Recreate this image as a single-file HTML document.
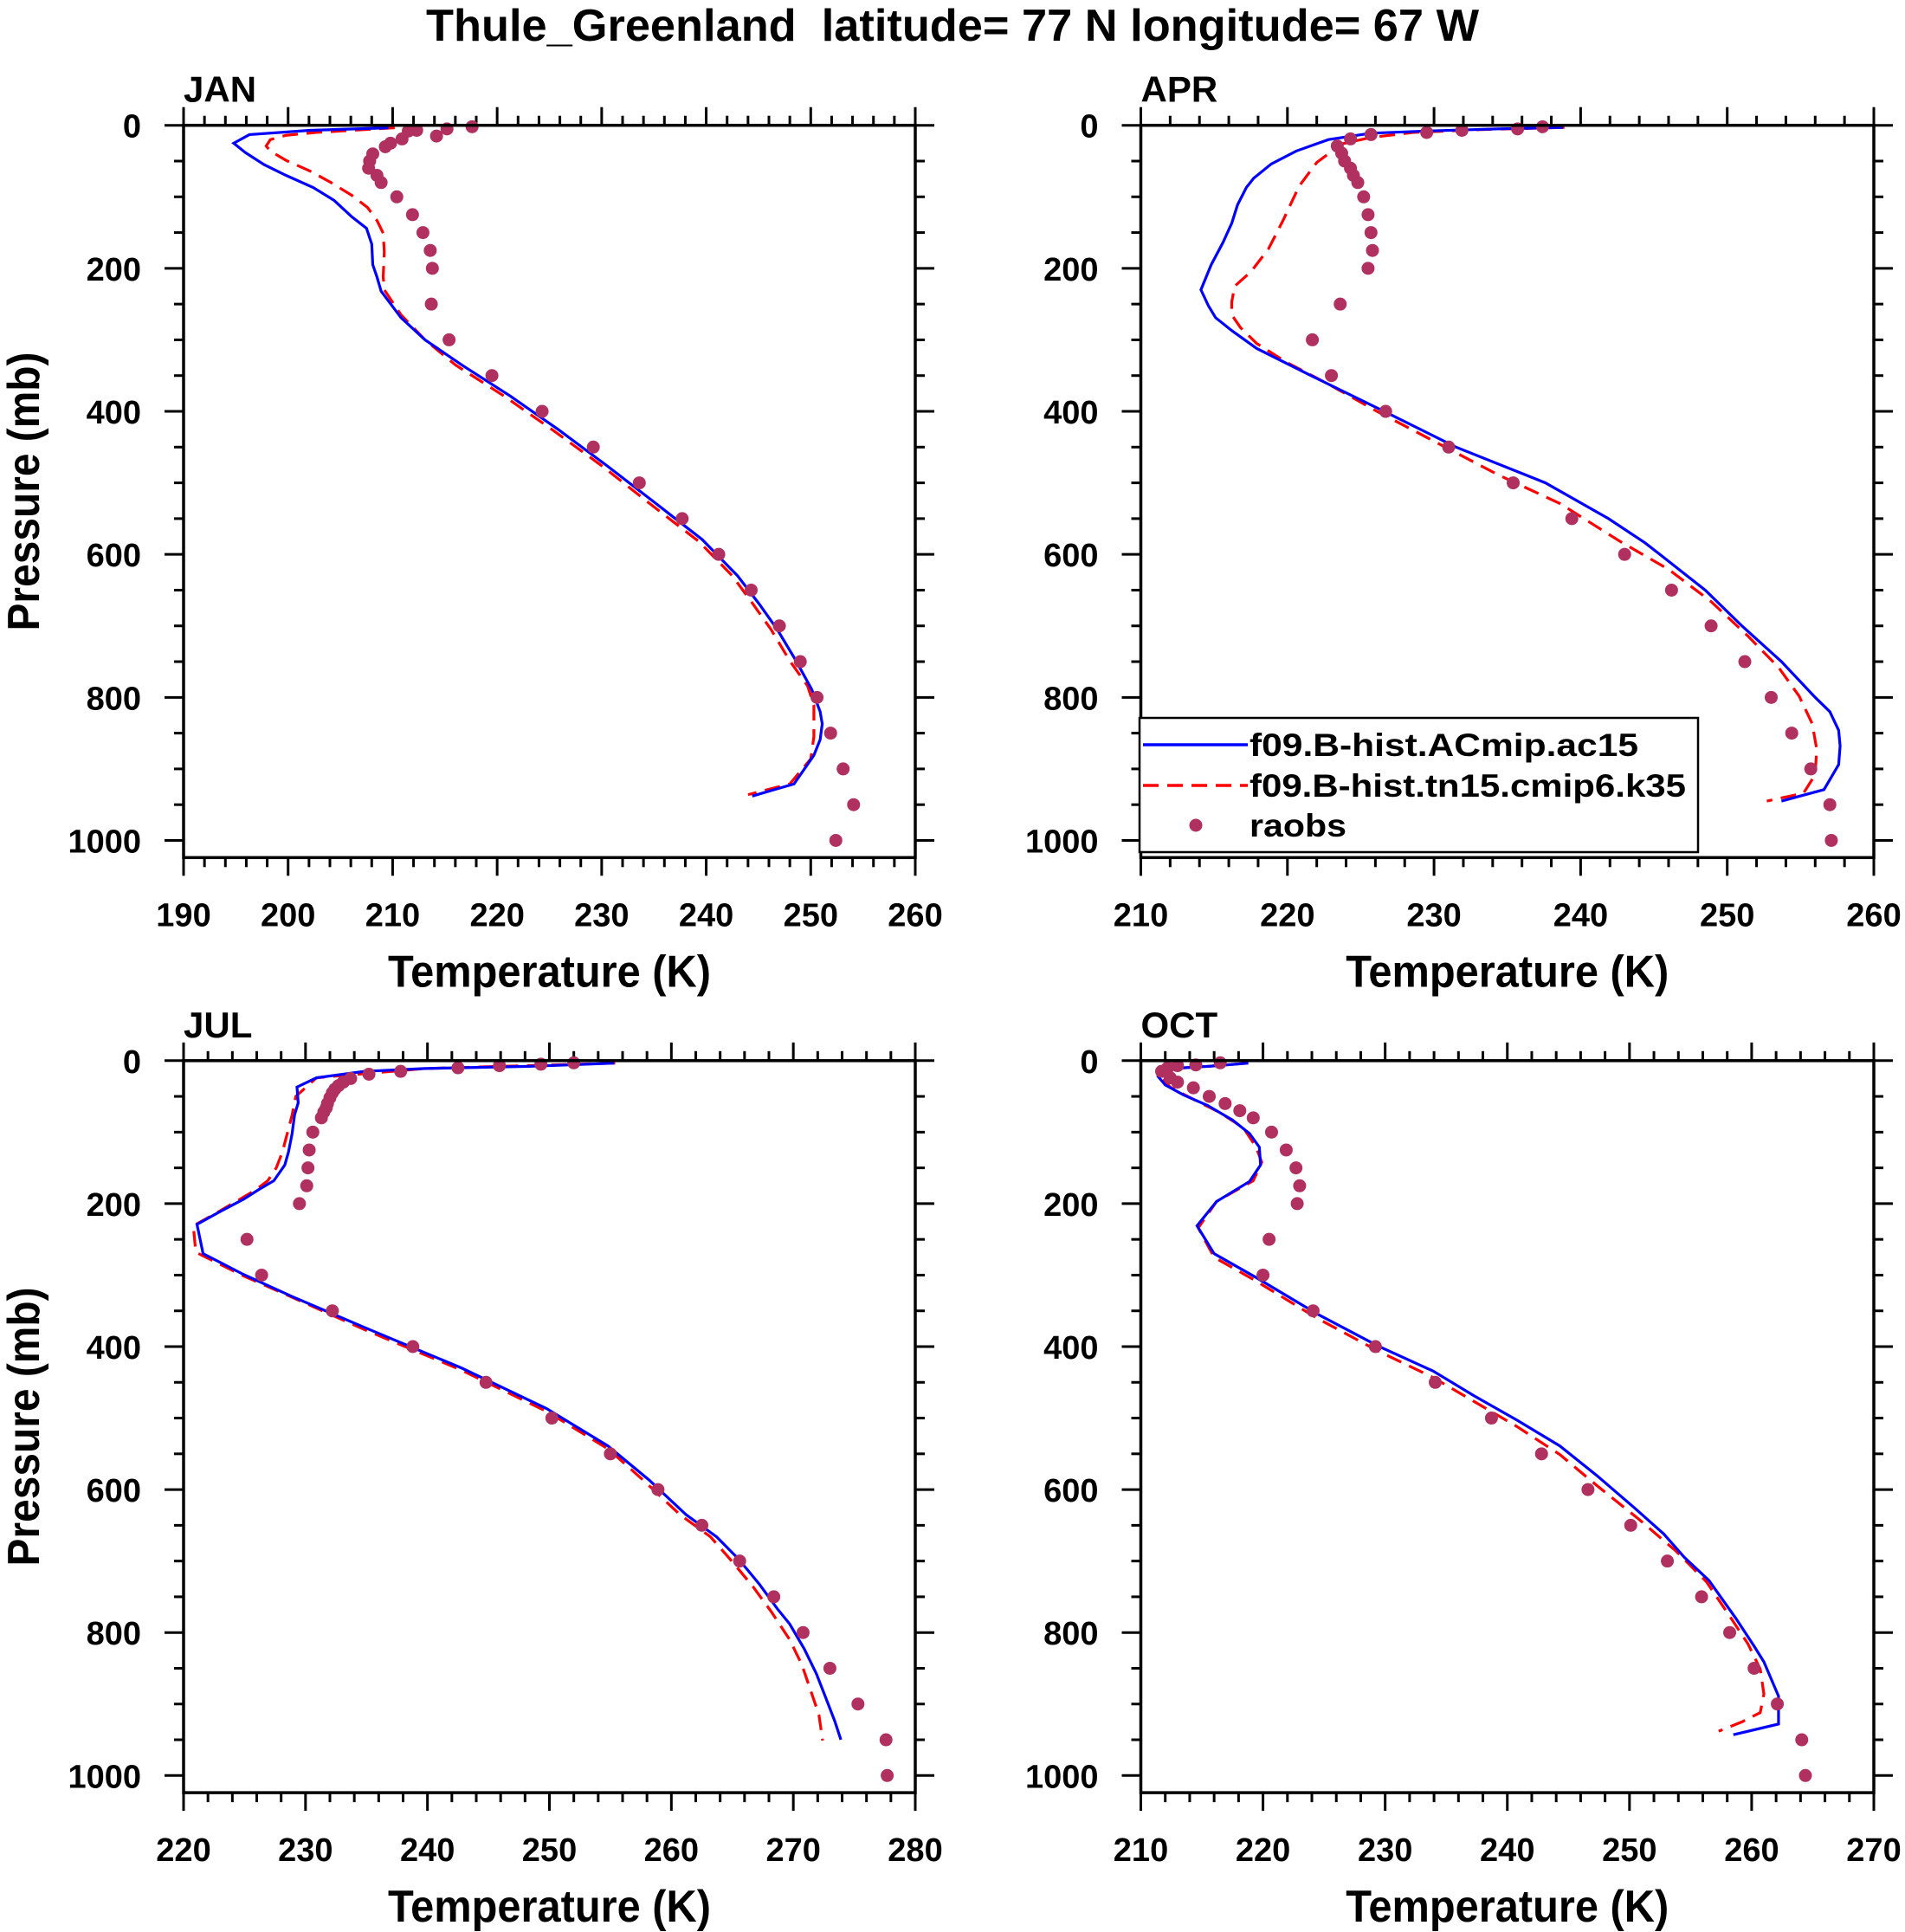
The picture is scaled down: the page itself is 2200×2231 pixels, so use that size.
<!DOCTYPE html>
<html><head><meta charset="utf-8"><style>
html,body{margin:0;padding:0;background:#fff;}
svg{display:block;font-family:"Liberation Sans",sans-serif;font-weight:bold;}
</style></head><body>
<svg id="fig" width="2200" height="2231" viewBox="0 0 2200 2231">
<text x="1100" y="47" text-anchor="middle" font-size="52" textLength="1216" lengthAdjust="spacingAndGlyphs" style="white-space:pre">Thule_Greenland  latitude= 77 N longitude= 67 W</text>
</svg>
<script>
// ---- JAN ----
const janObsT=[217.6,215.2,214.2,212.3,211.5,210.9,209.8,209.3,208.1,207.8,207.7,208.5,208.9,210.4,211.9,212.9,213.6,213.8,213.7,215.4,219.5,224.3,229.2,233.6,237.7,241.2,244.3,247.0,249.0,250.6,251.9,253.1,254.1,252.4];
const janObsP=[2,5,15,7,8,19,25,30,40,50,60,70,80,100,125,150,175,200,250,300,350,400,450,500,550,600,650,700,750,800,850,900,950,1000];
const janAcT=[209.6,202.1,196.3,194.8,195.9,197.7,199.8,202.4,204.4,206.1,207.5,208.0,208.1,208.5,208.9,210.8,213.1,216.6,221.3,225.9,230.5,235.2,239.6,243.0,245.1,246.8,248.6,250.1,250.9,251.1,250.9,250.3,248.4,244.4];
const janAcP=[3.5,7,13,25,38,55,70,87,105,128,144,166,195,212,232,269,300,335,379,426,476,529,579,630,670,705,749,789,820,837,859,881,921,938];
const janTnT=[210.2,202.7,199.8,198.3,197.9,198.3,199.8,202.1,204.1,206.1,207.6,208.5,209.1,209.2,209.1,209.2,210.8,213.1,216.0,220.7,225.3,230.0,234.6,239.3,242.5,244.5,246.2,248.0,249.7,250.3,250.3,250.0,248.0,244.0];
const janTnP=[3.5,10,14,20,29,36,49,64,80,98,115,133,151,177,212,230,265,300,335,379,426,476,529,582,630,670,705,749,784,811,855,886,921,936];
const janXTicks=[190,200,210,220,230,240,250,260];
// ---- APR ----
const aprObsT=[237.4,235.7,231.9,229.5,225.7,224.3,223.4,223.7,223.9,224.3,224.5,224.8,225.2,225.5,225.7,225.8,225.5,223.6,221.7,223.0,226.7,231.0,235.4,239.4,243.0,246.2,248.9,251.2,253.0,254.4,255.7,257.0,257.1];
const aprObsP=[2,5,7,10,13,19,29,39,50,60,70,80,100,125,150,175,200,250,300,350,400,450,500,550,600,650,700,750,800,850,900,950,1000];
const aprAcT=[238.8,234.4,229.5,225.7,222.8,220.6,218.9,217.7,217.2,216.6,216.2,215.6,214.8,214.1,214.6,215.1,216.2,217.9,221.6,226.6,231.5,237.6,241.9,244.4,245.4,248.5,251.0,253.7,256.0,257.0,257.6,257.7,257.6,256.6,253.7];
const aprAcP=[3,5,8,11,20,36,54,74,87,111,137,164,195,230,252,269,287,312,350,400,450,500,550,584,600,650,700,750,800,820,846,868,894,929,945];
const aprTnT=[238.9,233.2,228.6,225.7,223.7,222.0,220.8,219.7,218.7,217.5,216.4,216.2,216.2,216.8,217.9,219.9,222.8,226.2,230.3,234.4,238.6,242.7,246.0,248.9,251.4,253.5,254.9,255.8,256.1,256.0,255.2,252.7];
const aprTnP=[3,6,10,17,26,52,85,133,173,205,225,247,265,283,305,331,362,401,445,489,529,582,621,666,714,758,798,837,872,908,934,945];
const aprXTicks=[210,220,230,240,250,260];
// ---- JUL ----
const julObsT=[252.0,249.3,245.9,242.5,237.8,235.2,233.7,233.1,232.7,232.4,232.2,232.0,231.8,231.7,231.5,231.3,230.6,230.3,230.2,230.1,229.5,225.2,226.4,232.2,238.8,244.8,250.2,255.0,258.9,262.5,265.6,268.4,270.8,273.0,275.3,277.6,277.7];
const julObsP=[3,5,7,10,15,19,25,30,35,40,45,52,60,66,72,80,100,125,150,175,200,250,300,350,400,450,500,550,600,650,700,750,800,850,900,950,1000];
const julAcT=[255.3,248.3,239.8,234.8,230.9,229.3,229.4,229.1,228.9,228.6,228.3,227.4,226.1,224.9,222.9,221.1,221.6,224.9,228.9,234.8,242.8,249.8,254.8,258.2,261.2,263.7,265.5,267.2,268.7,269.7,270.9,271.9,272.7,273.4,273.9];
const julAcP=[3.5,8,11,15,24,37,59,76,102,128,146,168,181,194,212,229,270,299,330,373,430,487,539,587,635,666,697,732,767,788,823,858,893,924,950];
const julTnT=[255.4,239.8,230.9,229.2,228.9,228.5,228.1,227.6,226.9,225.9,224.6,222.6,220.8,221.0,224.9,228.9,234.8,242.8,249.8,254.8,257.7,260.7,263.2,265.0,266.7,268.2,269.7,270.7,271.4,272.1,272.4];
const julTnP=[3.5,11,24,50,76,102,128,150,168,181,194,214,231,268,301,331,376,433,491,543,587,635,666,701,736,771,810,845,880,915,951];
const julXTicks=[220,230,240,250,260,270,280];
// ---- OCT ----
const octObsT=[216.5,214.5,213.0,212.2,211.7,212.4,213.0,214.3,215.6,216.9,218.1,219.2,220.7,221.9,222.7,223.0,222.8,220.5,220.0,224.1,229.2,234.1,238.7,242.8,246.6,250.1,253.1,255.9,258.2,260.2,262.1,264.1,264.4];
const octObsP=[3,6,7,10,15,24,30,38,50,60,70,80,100,125,150,175,200,250,300,350,400,450,500,550,600,650,700,750,800,850,900,950,1000];
const octAcT=[218.8,215.5,211.5,211.4,212.0,213.5,215.5,217.5,218.9,219.7,219.8,218.9,216.2,214.6,216.0,219.4,224.4,229.4,233.9,237.3,240.8,244.3,247.3,250.3,252.8,254.5,256.5,258.7,260.2,261.0,262.2,262.2,258.5];
const octAcP=[3.5,8,12,22,34,48,63,83,102,121,146,169,197,231,270,303,354,399,434,469,503,539,580,624,662,695,727,780,819,841,889,928,943];
const octTnT=[218.7,215.5,211.7,211.6,212.4,214.4,216.4,218.4,219.4,219.9,219.2,216.2,214.7,216.0,219.4,224.4,229.4,233.9,237.3,240.8,244.3,247.3,250.8,253.8,256.3,258.2,259.7,260.7,261.0,260.7,259.2,257.3];
const octTnP=[3.5,8,12,22,37,55,72,94,120,142,168,197,234,275,308,360,406,443,477,512,551,594,642,686,729,777,816,851,886,912,925,938];
const octXTicks=[210,220,230,240,250,260,270];
const yTicks=[0,200,400,600,800,1000];
const panelNames=["JAN","APR","JUL","OCT"];

const NS="http://www.w3.org/2000/svg";
const svg=document.getElementById('fig');
function mk(tag,attrs,parent){const e=document.createElementNS(NS,tag);for(const k in attrs)e.setAttribute(k,attrs[k]);(parent||svg).appendChild(e);return e;}

function panel(name,L,T,R,B,xt,obsT,obsP,acT,acP,tnT,tnP,showYTitle){
  const g=mk('g',{});
  
  
  const xmin=xt[0],xmax=xt[xt.length-1],pmax=1024;
  const xs=t=>L+(t-xmin)/(xmax-xmin)*(R-L);
  const ys=p=>T+p/pmax*(B-T);
  for(let v=xmin;v<=xmax+1e-6;v+=2){
    const major=Math.abs((v-xmin)%10)<1e-6;const len=major?21:11;const x=xs(v);
    const t1=mk('line',{x1:x,x2:x,y1:B,y2:B+len,stroke:'#000','stroke-width':3},g);
    
    
    const t2=mk('line',{x1:x,x2:x,y1:T,y2:T-len,stroke:'#000','stroke-width':3},g);
    
    
  }
  for(let p=0;p<=1000;p+=50){
    const major=p%200===0;const len=major?22:11;const y=ys(p);
    const t1=mk('line',{x1:L,x2:L-len,y1:y,y2:y,stroke:'#000','stroke-width':3},g);
    
    
    const t2=mk('line',{x1:R,x2:R+len,y1:y,y2:y,stroke:'#000','stroke-width':3},g);
    
    
  }
  xt.forEach(v=>{const t=mk('text',{x:xs(v),y:B+79,'text-anchor':'middle','font-size':38},g);t.textContent=v;
    
    });
  yTicks.forEach(v=>{const t=mk('text',{x:L-49,y:ys(v)+14,'text-anchor':'end','font-size':38},g);t.textContent=v;
    
    });
  const xt2=mk('text',{x:(L+R)/2,y:B+149,'text-anchor':'middle','font-size':52,textLength:373,lengthAdjust:'spacingAndGlyphs'},g);
  xt2.textContent='Temperature (K)';
  
  
  if(showYTitle){
    const cy=(T+B)/2;
    const yt=mk('text',{x:0,y:0,'text-anchor':'middle','font-size':52,textLength:322,lengthAdjust:'spacingAndGlyphs',transform:`translate(45,${cy}) rotate(-90)`},g);
    yt.textContent='Pressure (mb)';
    
    
  }
  const pt=mk('text',{x:L,y:T-27,'font-size':42},g);pt.textContent=name;
  
  
  const clip=mk('clipPath',{id:'clip'+name},g);mk('rect',{x:L,y:T,width:R-L,height:B-T},clip);
  const dg=mk('g',{'clip-path':`url(#clip${name})`},g);
  const tn=mk('polyline',{points:tnT.map((t,i)=>xs(t)+','+ys(tnP[i])).join(' '),fill:'none',stroke:'#ff0000','stroke-width':3.2,'stroke-dasharray':'18 10'},dg);
  
  
  const ac=mk('polyline',{points:acT.map((t,i)=>xs(t)+','+ys(acP[i])).join(' '),fill:'none',stroke:'#0000ff','stroke-width':3.2},dg);
  
  
  obsT.forEach((t,i)=>{const c=mk('circle',{cx:xs(t),cy:ys(obsP[i]),r:7.5,fill:'#b03060'},g);
    
    });
  const fr=mk('rect',{x:L,y:T,width:R-L,height:B-T,fill:'none',stroke:'#000','stroke-width':3.5},g);
  
  
}
panel(panelNames[0],212,144.7,1057,990.3,janXTicks,janObsT,janObsP,janAcT,janAcP,janTnT,janTnP,true);
panel(panelNames[1],1317.5,144.7,2164,990.3,aprXTicks,aprObsT,aprObsP,aprAcT,aprAcP,aprTnT,aprTnP,false);
panel(panelNames[2],212,1224.8,1057,2070.1,julXTicks,julObsT,julObsP,julAcT,julAcP,julTnT,julTnP,true);
panel(panelNames[3],1317.5,1224.8,2164,2070.1,octXTicks,octObsT,octObsP,octAcT,octAcP,octTnT,octTnP,false);

const lg=mk('g',{});


const lb=mk('rect',{x:1316,y:829,width:645,height:155,fill:'#fff',stroke:'#000','stroke-width':2.5},lg);


const l1=mk('line',{x1:1320,x2:1441,y1:860,y2:860,stroke:'#0000ff','stroke-width':3.5},lg);


const l2=mk('line',{x1:1320,x2:1441,y1:907,y2:907,stroke:'#ff0000','stroke-width':3.5,'stroke-dasharray':'18 10'},lg);


const l3=mk('circle',{cx:1381,cy:953,r:7.5,fill:'#b03060'},lg);


[['f09.B-hist.ACmip.ac15',860,449,'legend-acmip-label'],['f09.B-hist.tn15.cmip6.k35',907,504,'legend-tn15-label'],['raobs',953,112,'legend-raobs-label']].forEach(d=>{
  const t=mk('text',{x:1443,y:d[1]+13,'font-size':37,textLength:d[2],lengthAdjust:'spacingAndGlyphs'},lg);t.textContent=d[0];
  
  
});
</script>
</body></html>
